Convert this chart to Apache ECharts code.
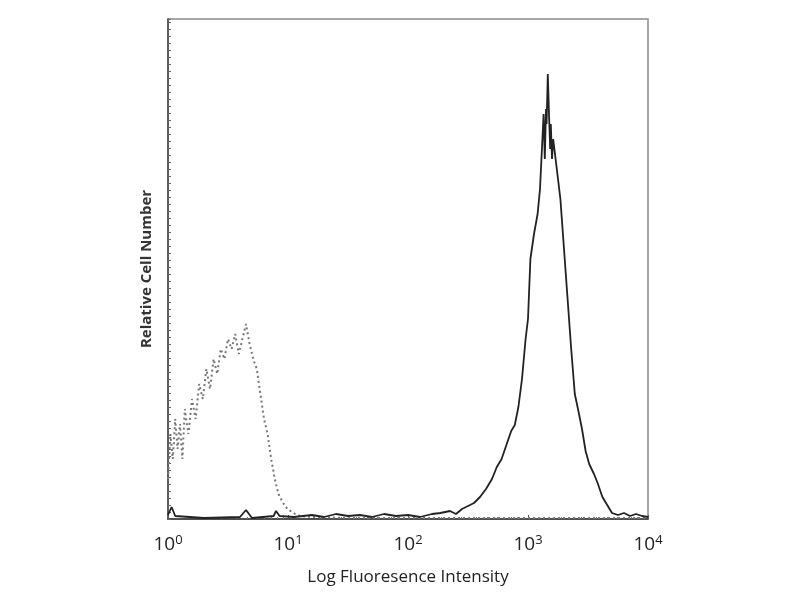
<!DOCTYPE html>
<html>
<head>
<meta charset="utf-8">
<script src="https://cdn.jsdelivr.net/npm/echarts@6/dist/echarts.min.js"></script>
<style>html,body{margin:0;padding:0;background:#fff;}#c{width:800px;height:600px;}</style>
</head>
<body>
<div id="c"></div>
<script>
// Tick labels (exponents of 10)
const tickExponents = [0, 1, 2, 3, 4];

// Isotype control (dotted grey): log10 intensity and relative count
const isoLog = [0.0,0.02,0.04,0.06,0.08,0.10,0.12,0.14,0.17,0.20,0.23,0.26,0.29,0.32,0.35,0.38,0.41,0.44,0.47,0.50,0.53,0.56,0.59,0.62,0.65,0.68,0.71,0.74,0.77,0.80,0.83,0.86,0.89,0.92,0.95,0.98,1.02,1.06,1.10,1.20,1.5,2.0,2.5,3.0,3.5,4.0];
const isoVal = [40,85,60,100,70,95,60,110,85,120,100,135,120,150,130,160,145,170,160,180,170,185,165,180,195,175,160,150,125,100,85,60,40,25,18,12,8,5,3,2,1,1,1,1,1,1];

// Stained sample (solid black): log10 intensity and relative count
const stainLog = [0.0,0.03,0.06,0.3,0.6,0.65,0.7,0.88,0.9,0.93,1.05,1.2,1.3,1.4,1.5,1.6,1.7,1.8,1.9,2.0,2.1,2.2,2.27,2.35,2.4,2.45,2.5,2.55,2.6,2.65,2.7,2.74,2.78,2.82,2.86,2.89,2.92,2.95,2.98,3.0,3.02,3.05,3.08,3.1,3.12,3.13,3.14,3.15,3.155,3.165,3.175,3.185,3.19,3.2,3.21,3.23,3.25,3.27,3.3,3.33,3.36,3.39,3.42,3.45,3.48,3.51,3.55,3.58,3.62,3.66,3.7,3.75,3.8,3.85,3.9,3.95,4.0];
const stainVal = [4,12,3,1,2,9,1,3,8,3,2,4,2,5,3,4,2,5,3,4,2,5,6,8,5,10,13,16,22,30,40,52,60,74,88,94,112,140,180,200,260,285,305,330,380,405,360,410,395,445,405,370,395,360,380,360,340,320,270,220,170,125,108,90,68,55,45,36,22,14,6,4,6,3,5,3,2];

const iso = isoLog.map((e,i)=>[Math.pow(10,e), isoVal[i]]);
const stain = stainLog.map((e,i)=>[Math.pow(10,e), stainVal[i]]);

const chart = echarts.init(document.getElementById('c'), null, {renderer:'canvas'});
chart.setOption({
  backgroundColor:'#fff',
  animation:false,
  grid:{left:168, right:152, top:19, bottom:81, show:true, borderColor:'#8a8a8a', borderWidth:1.5},
  xAxis:{
    type:'log', logBase:10, min:1, max:10000,
    name:'Log Fluoresence Intensity', nameLocation:'middle', nameGap:50,
    nameTextStyle:{fontFamily:'Open Sans', fontSize:17, color:'#222'},
    axisLine:{show:true, lineStyle:{color:'#333', width:1.5}},
    axisTick:{show:true, inside:true, length:4, lineStyle:{color:'#555'}},
    minorTick:{show:true, splitNumber:10, length:2, lineStyle:{color:'#777'}},
    splitLine:{show:false},
    axisLabel:{margin:15, color:'#222', fontFamily:'Open Sans',
      formatter:function(v){ const e = Math.round(Math.log10(v)); return tickExponents.indexOf(e)>=0 ? '10{s|'+e+'}' : ''; },
      rich:{s:{fontSize:13, verticalAlign:'top', padding:[0,0,9,0], fontFamily:'Open Sans', color:'#222'}},
      fontSize:19}
  },
  yAxis:{
    type:'value', min:0, max:500, interval:7,
    name:'Relative Cell Number', nameLocation:'middle', nameGap:14, nameRotate:90,
    nameTextStyle:{fontFamily:'Open Sans', fontSize:15, color:'#333', fontWeight:'bold'},
    axisLine:{show:true, lineStyle:{color:'#444', width:1.5}},
    axisTick:{show:true, inside:true, length:3, lineStyle:{color:'#666'}},
    axisLabel:{show:false},
    splitLine:{show:false}
  },
  series:[
    {type:'line', data:iso, showSymbol:false, smooth:false,
     lineStyle:{color:'#777', width:2, type:[2,3]}, z:2},
    {type:'line', data:stain, showSymbol:false, smooth:false,
     lineStyle:{color:'#222', width:1.8}, z:3}
  ]
});
</script>
</body>
</html>
